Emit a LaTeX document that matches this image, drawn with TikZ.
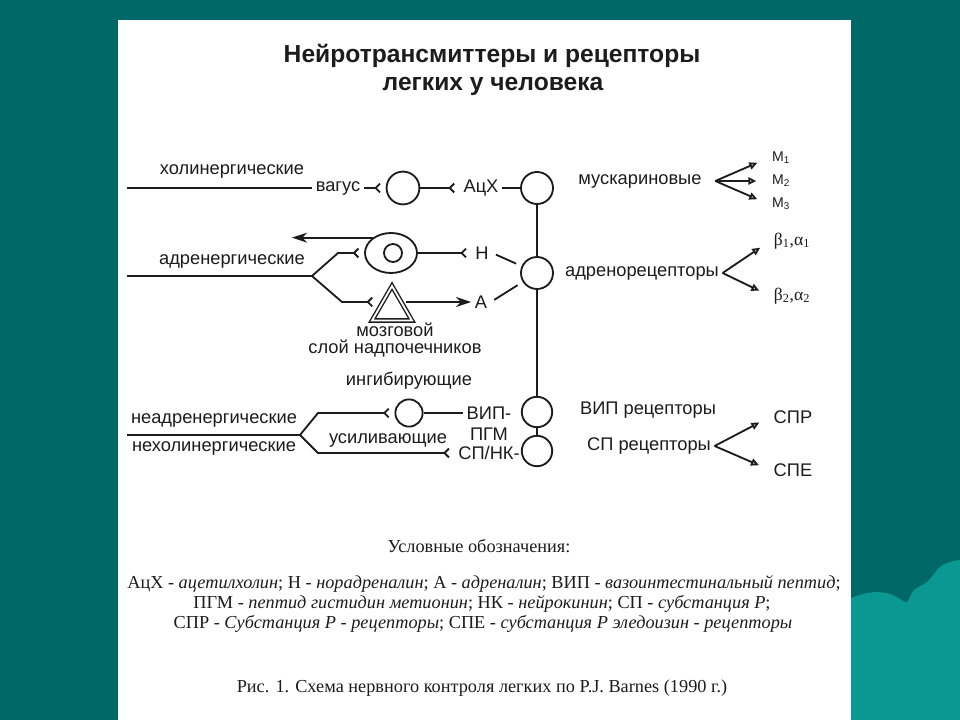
\documentclass[tikz,border=0pt]{standalone}
\usepackage{fontspec}
\setmainfont{Liberation Serif}
\setsansfont{Liberation Sans}
\usetikzlibrary{arrows.meta, shapes.geometric}
\definecolor{Slide}{HTML}{006866}
\definecolor{Wave}{HTML}{0B9893}
\definecolor{Sheet}{HTML}{FFFFFF}
\definecolor{Ink}{HTML}{1C1C1C}

\begin{document}
\begin{tikzpicture}[x=0.025cm,y=-0.025cm,font=\sffamily,color=Ink,line width=1.3pt,cell/.style={circle, draw=Ink, line width=1.3pt, inner sep=0pt, minimum size=0.8cm},headline/.style={text=Ink, font=\sffamily\bfseries\fontsize{17.5}{20}\selectfont},lbl/.style={text=Ink, font=\sffamily\fontsize{13}{15}\selectfont, inner sep=2pt},sublbl/.style={text=Ink, font=\sffamily\fontsize{10}{12}\selectfont, inner sep=2pt},greek/.style={text=Ink, font=\rmfamily\fontsize{12.5}{14}\selectfont, inner sep=2pt},legend/.style={text=Ink, font=\rmfamily\fontsize{13}{15}\selectfont},rcpt/.style={-{Straight Barb[reversed, length=1.1mm, width=2.2mm]}, shorten >=1.2mm},push/.style={-{Stealth[length=3.8mm, width=2.5mm, inset=1.2mm]}},fan/.style={-{Triangle[open, length=2mm, width=1.8mm, fill=Sheet]}, shorten >=3mm},link/.style={shorten <=1mm, shorten >=1.5mm}]
\fill[Slide] (0,0) rectangle (960,720);
\fill[Wave] plot[smooth] coordinates {(851,598) (863,594) (877,592) (890,594) (900,599) (907,602) (914,590) (927,582) (940,567) (950,562) (960,560)} -- (960,720) -- (851,720) -- cycle;
\fill[Sheet] (118,20) rectangle (851,720);
\node[headline] (ttl1) at (492,56) {Нейротрансмиттеры и рецепторы};
\node[headline] (ttl2) at (493,86) {легких у человека};
\coordinate (holL) at (127,188);
\node[lbl] (holLbl) at (232,171) {холинергические};
\node[lbl] (vagus) at (338,188) {вагус};
\node[cell, minimum size=0.82cm] (cVag) at (403,188) {};
\node[lbl] (ach) at (481,188) {АцХ};
\node[cell] (cAch) at (537,188) {};
\draw (holL) -- (vagus.west);
\draw[rcpt] (vagus.east) -- (cVag.west);
\draw[rcpt] (cVag.east) -- (ach.west);
\draw (ach.east) -- (cAch.west);
\node[lbl] (adrLbl) at (232,261) {адренергические};
\coordinate (adrL) at (127,276);
\coordinate (adrF) at (312,276);
\node[ellipse, draw=Ink, minimum width=1.3cm, minimum height=1.0cm, inner sep=0pt] (gang) at (391,253) {};
\node[cell, minimum size=0.45cm] (gangIn) at (393,253) {};
\coordinate (outTip) at (292,236);
\node[lbl] (nLbl) at (482,253) {Н};
\node[regular polygon, regular polygon sides=3, draw=Ink, double=Sheet, double distance=1.3pt, line width=1pt, minimum size=1.15cm, inner sep=0pt] (medulla) at (392,309) {};
\node[lbl] (aLbl) at (481,302) {А};
\node[lbl] (med1) at (395,330) {мозговой};
\node[lbl] (med2) at (395,349) {слой надпочечников};
\node[cell] (cAdr) at (537,273) {};
\draw (adrL) -- (adrF);
\draw[rcpt] (adrF) -- ++(26,-23) -- (gang.west);
\draw[rcpt] (adrF) -- ++(30,26) -- (medulla.west |- aLbl);
\draw[push] (gang.140) -- (gang.140 -| outTip);
\draw[rcpt] (gang.east) -- (nLbl.west);
\draw[push] (medulla.east |- aLbl) -- (aLbl.west);
\draw[link] (nLbl.east) -- (cAdr);
\draw[link] (aLbl.east) -- (cAdr);
\draw (cAch) -- (cAdr);
\node[lbl] (musc) at (640,181) {мускариновые};
\coordinate (muscFan) at ([xshift=2.5mm]musc.east);
\node[sublbl] (m1) at (781,158) {М\textsubscript{1}};
\node[sublbl] (m2) at (781,181) {М\textsubscript{2}};
\node[sublbl] (m3) at (781,204) {М\textsubscript{3}};
\draw[fan] (muscFan) -- (m1.west);
\draw[fan] (muscFan) -- (m2.west);
\draw[fan] (muscFan) -- (m3.west);
\node[lbl] (adrR) at (642,273) {адренорецепторы};
\node[greek] (b1) at (792,241) {β\textsubscript{1},α\textsubscript{1}};
\node[greek] (b2) at (792,296) {β\textsubscript{2},α\textsubscript{2}};
\draw[fan] (adrR.east) -- (b1.west);
\draw[fan] (adrR.east) -- (b2.west);
\node[lbl] (inhLbl) at (409,381) {ингибирующие};
\node[lbl] (nonA) at (214,420) {неадренергические};
\node[lbl] (nonC) at (214,448) {нехолинергические};
\node[lbl] (excLbl) at (388,440) {усиливающие};
\coordinate (nancL) at (127,435);
\coordinate (nancF) at (300,435);
\node[cell, minimum size=0.68cm] (cInh) at (409,413) {};
\node[lbl] (vip) at (489,413) {ВИП-};
\node[lbl] (pgm) at (489,434) {ПГМ};
\node[lbl] (spnk) at (489,453) {СП/НК-};
\node[cell, minimum size=0.76cm] (cVip) at (537,412) {};
\node[cell, minimum size=0.76cm] (cSp) at (537,451) {};
\draw (nancL) -- (nancF);
\draw[rcpt] (nancF) -- ++(18,-22) -- (cInh.west);
\draw[rcpt] (nancF) -- ++(18,18) -- (spnk.west);
\draw (cInh.east) -- (vip.west);
\draw (cAdr) -- (cVip);
\draw (cVip) -- (cSp);
\node[lbl] (vipR) at (648,410) {ВИП рецепторы};
\node[lbl] (spR) at (649,446) {СП рецепторы};
\node[lbl] (spr) at (793,417) {СПР};
\node[lbl] (spe) at (793,470) {СПЕ};
\draw[fan] (spR.east) -- (spr.west);
\draw[fan] (spR.east) -- (spe.west);
\node[legend] (key) at (479,546) {Условные обозначения:};
\node[legend] (key1) at (484,584) {АцХ - \textit{ацетилхолин}; Н - \textit{норадреналин}; А - \textit{адреналин}; ВИП - \textit{вазоинтестинальный пептид};};
\node[legend] (key2) at (482,604) {ПГМ - \textit{пептид гистидин метионин}; НК - \textit{нейрокинин}; СП - \textit{субстанция Р};};
\node[legend] (key3) at (483,624) {СПР - \textit{Субстанция Р - рецепторы}; СПЕ - \textit{субстанция Р эледоизин - рецепторы}};
\node[legend] (fig) at (482,688) {Рис. 1. Схема нервного контроля легких по P.J. Barnes (1990 г.)};
\end{tikzpicture}
\end{document}
